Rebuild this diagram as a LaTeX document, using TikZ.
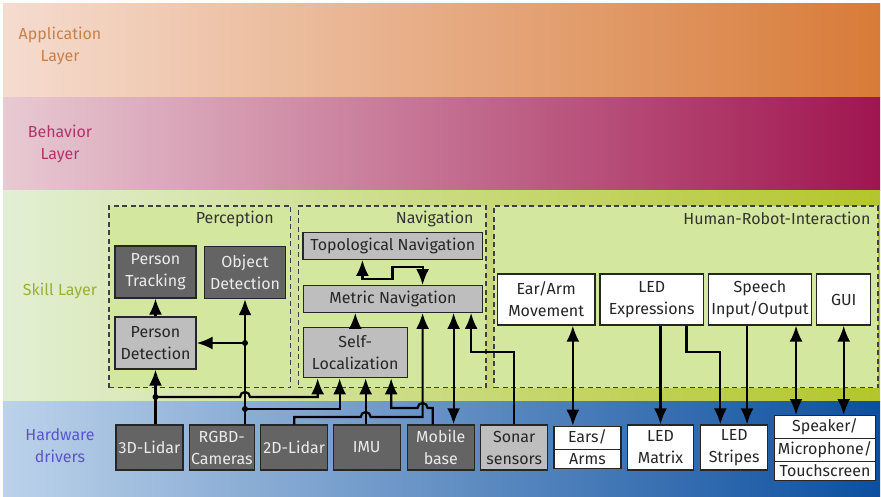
\documentclass[tikz,border=0pt]{standalone}
\usepackage{fontspec}
\setmainfont{Fira Sans}
\usetikzlibrary{positioning, calc, shapes.multipart, arrows.meta}

\definecolor{appL}{HTML}{F5DCCF}
\definecolor{appR}{HTML}{D87B38}
\definecolor{behL}{HTML}{E8CAD3}
\definecolor{behR}{HTML}{A0154F}
\definecolor{sklL}{HTML}{E2EFD4}
\definecolor{sklR}{HTML}{B3C62A}
\definecolor{hwL}{HTML}{BCD2EA}
\definecolor{hwR}{HTML}{0C4F9F}
\definecolor{grpfill}{HTML}{D4E79F}
\definecolor{darkbox}{HTML}{646464}
\definecolor{lightbox}{HTML}{BEBEBE}
\definecolor{appText}{HTML}{C98049}
\definecolor{behText}{HTML}{B2336A}
\definecolor{sklText}{HTML}{9BAE35}
\definecolor{hwText}{HTML}{5A55CC}

\begin{document}
\begin{tikzpicture}[x=1pt, y=-1pt, font=\fontsize{16}{22}\selectfont,
    layerlbl/.style={align=center, inner sep=0pt},
    box/.style={draw=black!85, line width=1.3pt, align=center, inner sep=0pt},
    dark/.style={box, fill=darkbox, text=white!92!black},
    grey/.style={box, fill=lightbox, text=black!85},
    plain/.style={box, fill=white, text=black!85},
    hw/.style={minimum width=67pt, minimum height=45pt},
    hri/.style={plain, minimum width=103.3pt, minimum height=51pt},
    splitbox/.style={plain, rectangle split, minimum width=#1, text height=12pt, text depth=4pt, inner xsep=0pt},
    group/.style={draw=black!75, dash pattern=on 5pt off 3.5pt, line width=1.2pt, fill=grpfill, inner sep=0pt},
    grouptitle/.style={anchor=north east, inner sep=0pt, text=black!80},
    conn/.style={line width=2.2pt},
    oneway/.style={conn, -{Latex[length=16pt, width=13pt]}},
    twoway/.style={conn, {Latex[length=16pt, width=13pt]}-{Latex[length=16pt, width=13pt]}},
    dot/.style={circle, fill=black, inner sep=0pt, minimum size=6pt}
  ]
  \useasboundingbox (0,0) rectangle (881,496);

  % --- layers ---
  \shade[left color=appL, right color=appR] (3,3) rectangle (880,97);
  \shade[left color=behL, right color=behR] (3,97) rectangle (880,190);
  \shade[left color=sklL, right color=sklR] (3,190) rectangle (880,401);
  \shade[left color=hwL, right color=hwR] (3,401) rectangle (880,496);

  \node[layerlbl, text=appText] (applbl) at (60,46) {Application\\Layer};
  \node[layerlbl, text=behText] (behlbl) at (60,144) {Behavior\\Layer};
  \node[layerlbl, text=sklText] (skllbl) at (60,291) {Skill Layer};
  \node[layerlbl, text=hwText] (hwlbl) at (60,446) {Hardware\\drivers};

  % --- skill groups ---
  \node[group, minimum width=181.7pt, minimum height=181.7pt] (percgrp) at (199.9,296.9) {};
  \node[grouptitle] (perctitle) at ($(percgrp.north east)+(-17.5,5)$) {Perception};
  \node[group, minimum width=187.7pt, minimum height=181.7pt] (navgrp) at (392.2,296.9) {};
  \node[grouptitle] (navtitle) at ($(navgrp.north east)+(-13,5)$) {Navigation};
  \node[group, minimum width=384pt, minimum height=181.7pt] (hrigrp) at (686,296.9) {};
  \node[grouptitle] (hrititle) at ($(hrigrp.north east)+(-8,6)$) {Human-Robot-Interaction};

  % --- perception ---
  \node[dark, minimum width=81pt, minimum height=52pt] (ptrack) at (155.5,272) {Person\\Tracking};
  \node[dark, minimum width=81pt, minimum height=52pt] (objdet) at (245,272.5) {Object\\Detection};
  \node[grey, minimum width=81pt, minimum height=52pt] (persdet) at (155.5,343) {Person\\Detection};

  % --- navigation ---
  \node[grey, minimum width=179.5pt, minimum height=26.6pt] (topo) at (392.8,246) {Topological Navigation};
  \node[grey, minimum width=179.5pt, minimum height=26.6pt] (metric) at (393,299) {Metric Navigation};
  \node[grey, minimum width=104pt, minimum height=50.4pt] (selfloc) at (355.3,352.5) {Self-\\Localization};

  % --- human-robot-interaction ---
  \node[hri, minimum width=97.7pt] (earmove) at (546.2,299.5) {Ear/Arm\\Movement};
  \node[hri] (ledexp) at (651.7,299.5) {LED\\Expressions};
  \node[hri] (speech) at (760,299.5) {Speech\\Input/Output};
  \node[hri, minimum width=54pt] (gui) at (843.7,299.5) {GUI};

  % --- hardware drivers ---
  \node[dark, hw] (lidar3d) at (149.5,447.5) {3D-Lidar};
  \node[dark, hw, minimum width=65pt] (rgbd) at (221.8,447.5) {RGBD-\\Cameras};
  \node[dark, hw] (lidar2d) at (294.2,447.5) {2D-Lidar};
  \node[dark, hw] (imu) at (366.7,447.5) {IMU};
  \node[dark, hw] (mobile) at (440.8,447.5) {Mobile\\base};
  \node[grey, hw] (sonar) at (514.2,447.5) {Sonar\\sensors};
  \node[splitbox=67pt, rectangle split parts=2, inner ysep=3pt, anchor=north] (earsarms) at (587.5,425.7) {Ears/\nodepart{two}Arms};
  \node[plain, hw, minimum width=66.4pt] (ledmatrix) at (660.5,447.5) {LED\\Matrix};
  \node[plain, hw] (ledstripes) at (734.2,447.5) {LED\\Stripes};
  \node[splitbox=101.4pt, rectangle split parts=3, inner ysep=2.7pt, anchor=north] (speaker) at (825,415) {Speaker/\nodepart{two}Microphone/\nodepart{three}Touchscreen};

  % --- inputs of self-localization and metric navigation ---
  \coordinate (sl1) at ($(selfloc.south west)+(15,0)$);
  \coordinate (sl2) at ($(selfloc.south west)+(37,0)$);
  \coordinate (sl3) at ($(selfloc.south west)+(63,0)$);
  \coordinate (sl4) at ($(selfloc.south west)+(88.5,0)$);
  \coordinate (mn1) at ($(metric.south west)+(120,0)$);
  \coordinate (mn2) at ($(metric.south west)+(151,0)$);
  \coordinate (mn3) at ($(metric.south west)+(168.5,0)$);

  % 3D-Lidar
  \draw[oneway] (lidar3d.north -| persdet.south) -- (persdet.south);
  \coordinate (j1) at (persdet.south |- 0,397);
  \draw[oneway] (j1) -- ($(objdet.south |- j1)+(-5,0)$) arc[start angle=180, end angle=0, radius=5pt] -- (sl1 |- j1) -- (sl1);
  \node[dot] (d1) at (j1) {};

  % RGBD-Cameras
  \draw[oneway] (rgbd.north -| objdet.south) -- (objdet.south);
  \coordinate (j2) at (objdet.south |- 0,343);
  \coordinate (j3) at (objdet.south |- 0,409);
  \draw[oneway] (j2) -- (j2 -| persdet.east);
  \draw[oneway] (j3) -- (sl2 |- j3) -- (sl2);
  \node[dot] (d2) at (j2) {};
  \node[dot] (d3) at (j3) {};

  % 2D-Lidar
  \coordinate (k1) at (lidar2d.north |- 0,417);
  \draw[oneway] (lidar2d.north) -- (k1) -- ($(sl3 |- k1)+(-5,0)$) arc[start angle=180, end angle=0, radius=5pt] -- (mn1 |- k1) -- (mn1);

  % IMU
  \draw[oneway] (imu.north -| sl3) -- (sl3);

  % Mobile base
  \coordinate (mb1) at ($(mobile.north west)+(26,0)$);
  \coordinate (k2) at (mb1 |- 0,408);
  \draw[oneway] (mb1) -- (k2) -- ($(mn1 |- k2)+(5,0)$) arc[start angle=0, end angle=180, radius=5pt] -- (sl4 |- k2) -- (sl4);
  \draw[twoway] (mobile.north -| mn2) -- (mn2);

  % Sonar sensors
  \draw[oneway] (sonar.north) -- (sonar.north |- 0,352) -- (mn3 |- 0,352) -- (mn3);

  % --- inside the groups ---
  \draw[oneway] (persdet) -- (ptrack);
  \draw[oneway] (selfloc.north) -- (selfloc.north |- metric.south);
  \coordinate (t1) at ($(topo.south west)+(60,0)$);
  \coordinate (m1) at ($(metric.north west)+(120,0)$);
  \draw[twoway] (t1) -- ++(0,19) -- ++(30,0) -- ++(0,-12) -| (m1);

  % --- human-robot-interaction to hardware ---
  \coordinate (ea1) at ($(earsarms.north west)+(19.5,0)$);
  \draw[twoway] (ea1 |- earmove.south) -- (ea1);
  \draw[oneway] (ledexp.south -| ledmatrix.north) -- (ledmatrix.north);
  \coordinate (le1) at ($(ledexp.south east)+(-17.6,0)$);
  \coordinate (ls1) at ($(ledstripes.north west)+(20.3,0)$);
  \coordinate (ls2) at ($(ledstripes.north west)+(47,0)$);
  \draw[oneway] (le1) -- (le1 |- 0,352) -| (ls1);
  \draw[oneway] (speech.south -| ls2) -- (ls2);
  \coordinate (sp1) at ($(speaker.north west)+(22.4,0)$);
  \draw[twoway] (sp1 |- speech.south) -- (sp1);
  \draw[twoway] (gui.south) -- (gui.south |- speaker.north);
\end{tikzpicture}
\end{document}
